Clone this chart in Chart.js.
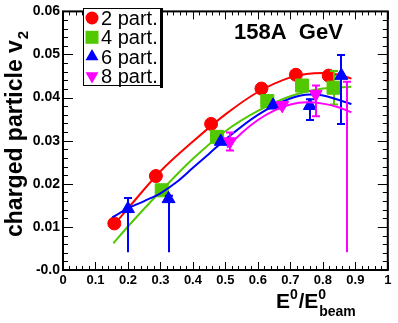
<!DOCTYPE html>
<html>
<head>
<meta charset="utf-8">
<script src="https://cdn.jsdelivr.net/npm/chart.js@4/dist/chart.umd.min.js"></script>
<style>
    html, body { margin: 0; padding: 0; background: #fff; }
    #v2Chart { display: block; }
</style>
</head>
<body>
<canvas id="v2Chart" width="398" height="323"></canvas>
<script>
// Data (x = E0/E0beam, y = v2)
// 2-particle cumulant
const x2 = [0.158, 0.286, 0.456, 0.611, 0.717, 0.818];
const v2p2 = [0.0108, 0.0218, 0.0339, 0.0421, 0.0453, 0.0451];
// 4-particle cumulant
const x4 = [0.304, 0.474, 0.629, 0.736, 0.833];
const v2p4 = [0.0185, 0.0309, 0.0392, 0.0428, 0.0423];
const lo4 = [null, null, null, null, 0.0384];
const hi4 = [null, null, null, null, 0.0462];
// 6-particle cumulant (low ends are cut at ~0.004 in the original)
const x6 = [0.2, 0.325, 0.486, 0.647, 0.76, 0.857];
const v2p6 = [0.0142, 0.0165, 0.0298, 0.0382, 0.0381, 0.0451];
const lo6 = [0.0041, 0.0041, null, null, 0.0348, 0.0339];
const hi6 = [0.0167, 0.0172, null, null, 0.0396, 0.0499];
// 8-particle cumulant (last marker is off scale, only its error bar shows)
const x8 = [0.514, 0.675, 0.778, 0.875];
const v2p8 = [0.0298, 0.0382, 0.0408, null];
const lo8 = [0.0277, null, 0.0357, 0.0041];
const hi8 = [0.0319, null, 0.0428, 0.0437];

// fit curves
const fitX2 = [0.155, 0.2, 0.3, 0.4, 0.5, 0.6, 0.7, 0.75, 0.8, 0.85, 0.888];
const fitV2 = [0.0103, 0.0143, 0.0229, 0.0298, 0.0361, 0.0413, 0.0447, 0.0455, 0.0457, 0.0453, 0.0444];
const fitX4 = [0.155, 0.2, 0.3, 0.4, 0.5, 0.6, 0.7, 0.8, 0.888];
const fitV4 = [0.0062, 0.0101, 0.0182, 0.0258, 0.0322, 0.0369, 0.0403, 0.0421, 0.0425];
const fitX6 = [0.152, 0.2, 0.25, 0.3, 0.35, 0.4, 0.45, 0.5, 0.6, 0.7, 0.76, 0.8, 0.888];
const fitV6 = [0.0122, 0.0143, 0.0160, 0.0178, 0.0204, 0.0237, 0.0270, 0.0303, 0.0360, 0.0398, 0.0407, 0.0405, 0.0385];
const fitX8 = [0.505, 0.55, 0.6, 0.65, 0.7, 0.75, 0.8, 0.85, 0.888];
const fitV8 = [0.0284, 0.0318, 0.0348, 0.0370, 0.0384, 0.0389, 0.0386, 0.0377, 0.0366];

const xTicks = [0, 0.1, 0.2, 0.3, 0.4, 0.5, 0.6, 0.7, 0.8, 0.9, 1];
const yTicks = [0, 0.01, 0.02, 0.03, 0.04, 0.05, 0.06];

const RED = '#ff0000', GREEN = '#52c800', BLUE = '#0000ff', MAGENTA = '#ff00ff';
const FONT = '"Liberation Sans", Arial, Helvetica, sans-serif';

const toPoints = (xs, ys) => xs.map((x, i) => ({ x: x, y: ys[i] }));

function markers(label, xs, ys, color, style, radius, rotation, order, lo, hi) {
    return {
        type: 'scatter',
        label: label,
        data: toPoints(xs, ys),
        pointStyle: style,
        pointRadius: radius,
        pointRotation: rotation,
        pointBackgroundColor: color,
        pointBorderColor: color,
        pointBorderWidth: 1,
        showLine: false,
        order: order,
        errLo: lo,
        errHi: hi,
        errColor: color
    };
}

function fitLine(xs, ys, color, order) {
    return {
        type: 'scatter',
        data: toPoints(xs, ys),
        showLine: true,
        borderColor: color,
        borderWidth: 2,
        pointRadius: 0,
        cubicInterpolationMode: 'monotone',
        order: order
    };
}

// Error bars, drawn right before each marker dataset
const errorBars = {
    id: 'errorBars',
    beforeDatasetDraw(chart, args) {
        const ds = chart.data.datasets[args.index];
        if (!ds.errLo) return;
        const { ctx, chartArea: a } = chart;
        const xs = chart.scales.x, ys = chart.scales.y;
        ctx.save();
        ctx.beginPath();
        ctx.rect(a.left, a.top, a.width, a.height);
        ctx.clip();
        ctx.strokeStyle = ds.errColor;
        ctx.lineWidth = 2;
        ds.data.forEach((p, i) => {
            const lo = ds.errLo[i], hi = ds.errHi[i];
            if (lo === null || hi === null) return;
            const px = Math.round(xs.getPixelForValue(p.x));
            const pLo = ys.getPixelForValue(lo), pHi = ys.getPixelForValue(hi);
            ctx.beginPath();
            ctx.moveTo(px, pLo);
            ctx.lineTo(px, pHi);
            ctx.moveTo(px - 4, pHi);
            ctx.lineTo(px + 4, pHi);
            if (lo > 0.005) {
                ctx.moveTo(px - 4, pLo);
                ctx.lineTo(px + 4, pLo);
            }
            ctx.stroke();
        });
        ctx.restore();
    }
};

function drawMarker(ctx, style, x, y, color) {
    ctx.fillStyle = color;
    ctx.beginPath();
    if (style === 'circle') {
        ctx.arc(x, y, 6.5, 0, Math.PI * 2);
    } else if (style === 'rect') {
        ctx.rect(x - 6.5, y - 6.5, 13, 13);
    } else if (style === 'up') {
        ctx.moveTo(x, y - 7.5);
        ctx.lineTo(x + 6.5, y + 3.75);
        ctx.lineTo(x - 6.5, y + 3.75);
    } else {
        ctx.moveTo(x, y + 7.5);
        ctx.lineTo(x + 6.5, y - 3.75);
        ctx.lineTo(x - 6.5, y - 3.75);
    }
    ctx.closePath();
    ctx.fill();
}

// Frame with inside ticks, legend and texts (ROOT look)
const decorations = {
    id: 'decorations',
    afterDraw(chart) {
        const { ctx, chartArea: a } = chart;
        const xs = chart.scales.x, ys = chart.scales.y;
        ctx.save();
        ctx.strokeStyle = '#000';
        ctx.lineWidth = 1;
        ctx.beginPath();
        for (let i = 0; i <= 30; i++) {
            const py = Math.round(ys.getPixelForValue(i * 0.002)) + 0.5;
            const len = i % 5 === 0 ? 10 : 5;
            ctx.moveTo(a.left, py); ctx.lineTo(a.left + len, py);
            ctx.moveTo(a.right, py); ctx.lineTo(a.right - len, py);
        }
        for (let i = 0; i <= 50; i++) {
            const px = Math.round(xs.getPixelForValue(i * 0.02)) + 0.5;
            const len = i % 5 === 0 ? 8 : 4;
            ctx.moveTo(px, a.bottom); ctx.lineTo(px, a.bottom - len);
            ctx.moveTo(px, a.top); ctx.lineTo(px, a.top + len);
        }
        ctx.stroke();
        ctx.lineWidth = 2;
        ctx.strokeRect(a.left, a.top, a.width, a.height);

        // legend
        ctx.fillStyle = '#fff';
        ctx.fillRect(83, 8, 78, 77);
        ctx.lineWidth = 1;
        ctx.strokeRect(83.5, 8.5, 77, 77);
        ctx.fillStyle = '#000';
        ctx.fillRect(160, 8, 3, 80);
        const entries = [
            ['2 part.', 'circle', RED],
            ['4 part.', 'rect', GREEN],
            ['6 part.', 'up', BLUE],
            ['8 part.', 'down', MAGENTA]
        ];
        ctx.font = '20px ' + FONT;
        ctx.textBaseline = 'alphabetic';
        entries.forEach((e, i) => {
            const cy = 18 + i * 19.3;
            drawMarker(ctx, e[1], 92, cy, e[2]);
            ctx.fillStyle = '#000';
            ctx.fillText(e[0], 101, cy + 7);
        });

        // energy label
        ctx.font = 'bold 22px ' + FONT;
        ctx.fillText('158A  GeV', 234, 39);

        // x title E0/E0beam
        let tx = 276;
        const seg = (txt, size, dy) => {
            ctx.font = 'bold ' + size + 'px ' + FONT;
            ctx.fillText(txt, tx, 308 + dy);
            tx += ctx.measureText(txt).width;
        };
        seg('E', 21, 0); seg('0', 14, -9); tx += 1; seg('/', 20, 0);
        seg('E', 21, 0); seg('0', 14, -9); tx -= 7; seg('beam', 14, 8);

        // y title
        ctx.translate(22, 237);
        ctx.rotate(-Math.PI / 2);
        ctx.font = 'bold 23px ' + FONT;
        ctx.fillText('charged particle v', 0, 0);
        const w = ctx.measureText('charged particle v').width;
        ctx.font = 'bold 15px ' + FONT;
        ctx.fillText('2', w + 1, 6);
        ctx.restore();
    }
};

const xTickFont = { family: FONT, size: 13, weight: 'bold' };
const yTickFont = { family: FONT, size: 14, weight: 'bold' };

new Chart(document.getElementById('v2Chart'), {
    type: 'scatter',
    data: {
        datasets: [
            fitLine(fitX8, fitV8, MAGENTA, 1),
            markers('8 part.', x8, v2p8, MAGENTA, 'triangle', 7.5, 180, 2, lo8, hi8),
            fitLine(fitX6, fitV6, BLUE, 3),
            markers('6 part.', x6, v2p6, BLUE, 'triangle', 7.5, 0, 4, lo6, hi6),
            fitLine(fitX4, fitV4, GREEN, 5),
            markers('4 part.', x4, v2p4, GREEN, 'rect', 9.2, 0, 6, lo4, hi4),
            fitLine(fitX2, fitV2, RED, 7),
            markers('2 part.', x2, v2p2, RED, 'circle', 6.5, 0, 8, null, null)
        ]
    },
    options: {
        responsive: false,
        animation: false,
        devicePixelRatio: 1,
        layout: { padding: { top: 8, right: 6, left: 0, bottom: 0 } },
        plugins: { legend: { display: false }, tooltip: { enabled: false } },
        scales: {
            x: {
                type: 'linear', min: 0, max: 1,
                afterFit: s => { s.height = 53; },
                afterBuildTicks: s => { s.ticks = xTicks.map(v => ({ value: v })); },
                grid: { display: false, drawTicks: false },
                border: { display: false },
                ticks: {
                    autoSkip: false, maxRotation: 0, padding: 3, color: '#000', font: xTickFont,
                    callback: v => (v === 0 || v === 1) ? String(v) : v.toFixed(1)
                }
            },
            y: {
                type: 'linear', min: 0, max: 0.06,
                afterFit: s => { s.width = 63; },
                afterBuildTicks: s => { s.ticks = yTicks.map(v => ({ value: v })); },
                grid: { display: false, drawTicks: false },
                border: { display: false },
                ticks: {
                    autoSkip: false, padding: 3, color: '#000', font: yTickFont,
                    callback: v => v === 0 ? '-0.0' : v.toFixed(2)
                }
            }
        }
    },
    plugins: [errorBars, decorations]
});
</script>
</body>
</html>
